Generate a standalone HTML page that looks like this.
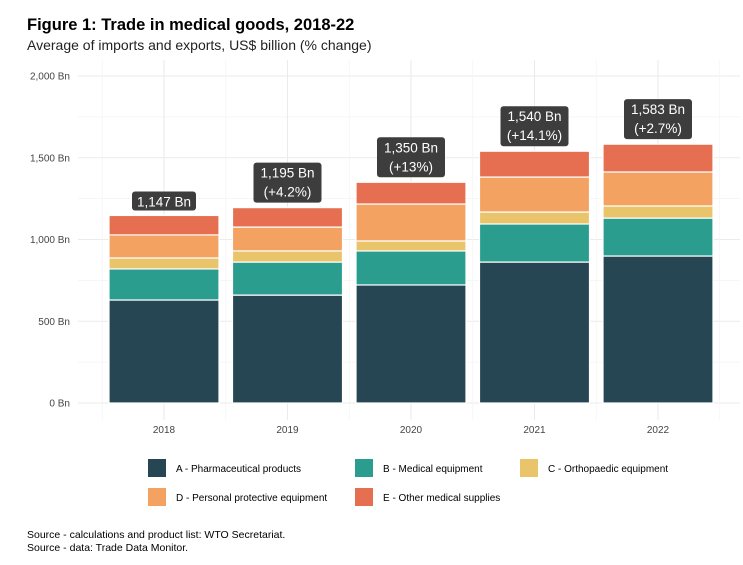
<!DOCTYPE html>
<html><head><meta charset="utf-8"><style>
body{margin:0;background:#fff;font-family:"Liberation Sans",sans-serif;}
svg text{font-family:"Liberation Sans",sans-serif;}
</style></head><body>
<svg id="c" width="743" height="560" xmlns="http://www.w3.org/2000/svg">
<rect width="743" height="560" fill="#fff"/>
<text x="27" y="30" font-size="16.5" font-weight="bold" fill="#000">Figure 1: Trade in medical goods, 2018-22</text>
<text x="27" y="50" font-size="14" fill="#222">Average of imports and exports, US$ billion (% change)</text>
<g id="grid"></g><g id="bars"></g><g id="labels"></g><g id="axes"></g><g id="legend"></g>
<text x="27" y="538" font-size="10.5" fill="#000">Source - calculations  and product list: WTO Secretariat.</text>
<text x="27" y="551" font-size="10.5" fill="#000">Source - data: Trade Data Monitor.</text>
</svg>
<script>
const years=["2018","2019","2020","2021","2022"];
const seriesA=[630,660,722,862,899];
const seriesB=[190,202,208,233,232];
const seriesC=[67,68,61,73,74];
const seriesD=[141,146,226,214,208];
const seriesE=[119,119,133,158,170];
const totalLabels=["1,147 Bn","1,195 Bn","1,350 Bn","1,540 Bn","1,583 Bn"];
const changeLabels=["","(+4.2%)","(+13%)","(+14.1%)","(+2.7%)"];
const yTicks=[0,500,1000,1500,2000];
const yTickLabels=["0 Bn","500 Bn","1,000 Bn","1,500 Bn","2,000 Bn"];
const seriesNames=["A - Pharmaceutical products","B - Medical equipment","C - Orthopaedic equipment","D - Personal protective equipment","E - Other medical supplies"];
const colors=["#264653","#2a9d8f","#e9c46a","#f4a261","#e76f51"];
const NS="http://www.w3.org/2000/svg";
const y0=403,pxPer=327/2000;
const yS=v=>y0-v*pxPer;
const xS=i=>164+i*123.5;
const bw=110;
function mk(t,a,p){const e=document.createElementNS(NS,t);for(const k in a)e.setAttribute(k,a[k]);p.appendChild(e);return e;}
const grid=document.getElementById('grid');
for(let v=0;v<=2000;v+=250){
 const l=mk('line',{x1:78,x2:740,y1:yS(v),y2:yS(v),stroke:v%500?'#f3f3f3':'#ebebeb','stroke-width':v%500?0.8:1.1},grid);
 
 
}
for(let i=-0.5;i<=years.length-0.5;i+=0.5){
 const l=mk('line',{x1:xS(i),x2:xS(i),y1:60,y2:420,stroke:Number.isInteger(i)?'#ebebeb':'#f3f3f3','stroke-width':Number.isInteger(i)?1.1:0.8},grid);
 
 
}
const axes=document.getElementById('axes');
yTicks.forEach((v,i)=>{
 const t=mk('text',{x:70,y:yS(v)+3.5,'font-size':10,fill:'#444','text-anchor':'end'},axes);
 t.textContent=yTickLabels[i];
 
 
});
const bars=document.getElementById('bars'),labels=document.getElementById('labels');
const series=[seriesA,seriesB,seriesC,seriesD,seriesE];
years.forEach((yr,i)=>{
 let cum=0;
 series.forEach((s,k)=>{
  const top=cum+s[i];
  const r=mk('rect',{x:xS(i)-bw/2,y:yS(top),width:bw,height:yS(cum)-yS(top),fill:colors[k],stroke:'#fff','stroke-width':1.2},bars);
  
  
  cum=top;
 });
 const t=mk('text',{x:xS(i),y:420+13,'font-size':10,fill:'#444','text-anchor':'middle'},axes);
 t.textContent=yr;
 
 
 const two=changeLabels[i]!=="";
 const h=two?40:19,w=two?68:64,by=yS(cum)-5-h;
 const g=mk('g',{},labels);
 
 
 mk('rect',{x:xS(i)-w/2,y:by,width:w,height:h,rx:3,fill:'#3d3d3d'},g);
 const t1=mk('text',{x:xS(i),y:by+15,'font-size':13.5,fill:'#fff','text-anchor':'middle'},g);
 t1.textContent=totalLabels[i];
 if(two){const t2=mk('text',{x:xS(i),y:by+34,'font-size':13.5,fill:'#fff','text-anchor':'middle'},g);t2.textContent=changeLabels[i];}
});
const legend=document.getElementById('legend');
const lpos=[[148,459],[355,459],[520,459],[148,488],[355,488]];
seriesNames.forEach((n,k)=>{
 const g=mk('g',{},legend);
 
 
 mk('rect',{x:lpos[k][0],y:lpos[k][1],width:18,height:18,fill:colors[k]},g);
 const t=mk('text',{x:lpos[k][0]+28,y:lpos[k][1]+13,'font-size':10,fill:'#000'},g);
 t.textContent=n;
});
</script>
</body></html>
